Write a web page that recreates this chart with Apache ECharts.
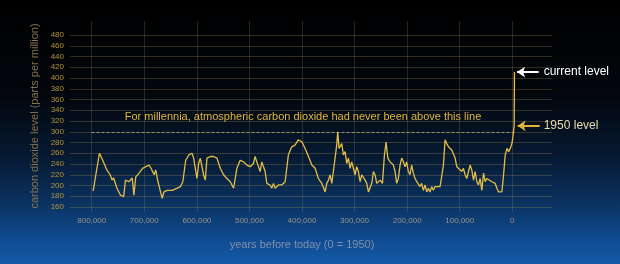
<!DOCTYPE html>
<html><head><meta charset="utf-8">
<script src="https://cdn.jsdelivr.net/npm/echarts@6/dist/echarts.min.js"></script>
<style>html,body{margin:0;padding:0;background:#000}#c{width:620px;height:264px}</style>
</head><body><div id="c"></div>
<script>
// years before today (0 = 1950), in thousands of years
const agesK = [797,785,777.5,771,764.6,761,758,751.7,745,739,735.6,729,722.7,719.5,716,709.7,703,696.8,690.5,687,681,678,675,670.7,665.6,662.5,656,646.7,637,631,626.5,621,614.8,609,605.9,602.8,599.6,596.4,593.3,587,583.8,580.6,574.3,568,561.6,555.3,549,542.6,536.3,530,523.7,517.4,511,504.8,498.5,492.2,489,485.8,479.5,476.3,473,470,466.8,460.5,457.3,454.2,451,444.7,438.4,432,425.8,419.5,413.2,407,400,394,387.6,381.2,375,368.7,362.3,356,352.8,349.6,346.5,343.3,340,337,333.9,332,329.4,324.4,321.2,318,314.9,311.7,308.5,305.4,299,295.9,292.7,289.5,286.3,280,276.8,273.6,270.5,267.3,264.1,261,257.8,254.6,251.4,247,243.2,240,236.8,232.5,229.4,226.2,223,219.9,216.7,213.5,210.3,207.2,204,200.9,197.7,194.5,191.4,188.2,185,181.8,175.5,172.4,169.2,166,162.8,159.6,156.4,153.3,150.1,146.9,143.7,137.4,134.2,131,127.9,124.7,121.5,118.3,115.2,112,108.8,105.6,102.5,96.1,93,89.8,86.6,83.4,80.3,77.1,73.9,70.7,67.5,64.4,61.2,58,54.8,51.6,48.5,45.3,39,32.6,29.4,26.2,23,19.9,16.7,13.5,10.3,7.1,3.9,0.8,-1,-3.5,-4];
// carbon dioxide, parts per million
const co2 = [190,260,244,229,220,210,214,195,182,179,210,207,214,182,216,223,232,235,238,232,220,229,213,195,176,188,191,191,195,198,207,247,257,260,251,232,213,241,251,220,210,251,254,254,251,232,220,213,207,195,232,247,244,238,235,241,254,244,226,244,247,226,204,201,195,204,195,201,201,207,257,272,275,285,281,269,254,238,232,213,204,188,204,210,220,204,201,251,275,300,269,278,257,263,241,251,232,244,220,235,226,207,220,210,204,188,191,204,226,220,204,201,210,204,257,281,251,244,247,238,226,204,213,238,251,244,235,244,226,220,238,223,213,207,198,204,191,201,188,195,188,198,191,198,195,198,201,238,285,278,272,275,266,269,251,235,232,226,232,220,213,226,238,229,210,226,207,201,213,191,223,207,213,210,207,204,195,188,191,188,220,257,269,263,269,278,290,311,411];
const yTicks = [160,180,200,220,240,260,280,300,320,340,360,380,400,420,440,460,480];
const xTickValues = [800000,700000,600000,500000,400000,300000,200000,100000,0];
const xTickLabels = ['800,000','700,000','600,000','500,000','400,000','300,000','200,000','100,000','0'];
const thresholdPPM = 300;
const level1950 = 311;
const currentLevel = 411;
const yTitle = 'carbon dioxide level (parts per million)';
const xTitle = 'years before today (0 = 1950)';
const noteText = 'For millennia, atmospheric carbon dioxide had never been above this line';

const FONT = 'Liberation Sans, Arial, sans-serif';
const seriesData = agesK.map((a, i) => [a * 1000, co2[i]]);
const labelMap = {};
xTickValues.forEach((v, i) => labelMap[v] = xTickLabels[i]);

const chart = echarts.init(document.getElementById('c'), null, {renderer: 'canvas'});
chart.setOption({
  animation: false,
  backgroundColor: new echarts.graphic.LinearGradient(0, 0, 0, 1, [
    {offset: 0, color: '#000000'},
    {offset: 0.35, color: '#02060c'},
    {offset: 0.6, color: '#061a33'},
    {offset: 0.78, color: '#0b3464'},
    {offset: 0.92, color: '#104d95'},
    {offset: 1, color: '#155aa6'}
  ]),
  grid: [
    {left: 70, right: 68, top: 35, bottom: 57},
    {left: 91.7, right: 107.7, top: 21, bottom: 52}
  ],
  xAxis: [
    {gridIndex: 0, type: 'value', inverse: true, min: -75400, max: 841000, show: false},
    {gridIndex: 1, type: 'value', inverse: true, min: 0, max: 800000, interval: 100000,
     axisLine: {show: false}, axisTick: {show: false},
     splitLine: {show: true, lineStyle: {color: 'rgba(175,160,115,0.22)', width: 1}},
     axisLabel: {color: '#9a9482', fontSize: 8, fontFamily: FONT, margin: 5,
       formatter: v => labelMap[v] !== undefined ? labelMap[v] : ''},
     name: xTitle, nameLocation: 'middle', nameGap: 27,
     nameTextStyle: {color: '#8191a8', fontSize: 11, fontFamily: FONT}}
  ],
  yAxis: [
    {gridIndex: 0, type: 'value', min: yTicks[0], max: yTicks[yTicks.length - 1], interval: 20,
     axisLine: {show: false}, axisTick: {show: false},
     splitLine: {show: true, lineStyle: {color: 'rgba(195,165,85,0.25)', width: 1}},
     axisLabel: {color: '#b8923a', fontSize: 8, fontFamily: FONT, margin: 6}},
    {gridIndex: 1, type: 'value', min: 0, max: 1, show: false}
  ],
  graphic: [
    {type: 'text', x: 35, y: 116, rotation: Math.PI / 2,
     style: {text: yTitle, fill: '#85714a', font: '11px ' + FONT, align: 'center', verticalAlign: 'middle'}}
  ],
  series: [{
    type: 'line', xAxisIndex: 0, yAxisIndex: 0, data: seriesData,
    showSymbol: false, symbol: 'none', clip: false,
    lineStyle: {color: '#e5bd45', width: 1.3},
    markLine: {
      silent: true, animation: false, symbol: 'none',
      data: [
        [{coord: [800000, thresholdPPM], symbol: 'none',
          lineStyle: {color: 'rgba(200,182,135,0.7)', type: [3, 2], width: 1},
          label: {show: true, position: 'insideMiddleTop', distance: 9, formatter: noteText,
                  color: '#e2b53a', fontSize: 11, fontFamily: FONT}},
         {coord: [-4000, thresholdPPM], symbol: 'none'}],
        [{coord: [-50000, currentLevel], symbol: 'none',
          lineStyle: {color: '#ffffff', type: 'solid', width: 2},
          label: {show: true, position: 'start', distance: 5, formatter: 'current level',
                  color: '#ffffff', fontSize: 12, fontFamily: FONT}},
         {coord: [-9000, currentLevel], symbol: 'arrow', symbolSize: [8, 8]}],
        [{coord: [-52000, level1950], symbol: 'none',
          lineStyle: {color: '#e2b53a', type: 'solid', width: 2},
          label: {show: true, position: 'start', distance: 4, formatter: '1950 level',
                  color: '#ecdcaa', fontSize: 12, fontFamily: FONT}},
         {coord: [-10000, level1950], symbol: 'arrow', symbolSize: [8, 8]}]
      ]
    }
  }]
});
</script>
</body></html>
